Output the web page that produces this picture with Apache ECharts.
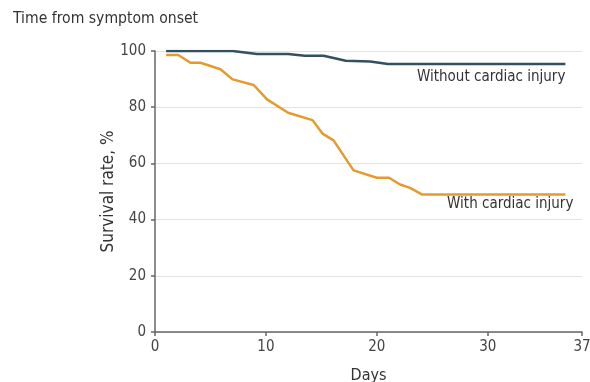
<!DOCTYPE html>
<html><head><meta charset="utf-8">
<script src="https://cdn.jsdelivr.net/npm/echarts@6/dist/echarts.min.js"></script>
<style>html,body{margin:0;padding:0;background:#fff}#c{width:590px;height:382px}</style>
</head><body><div id="c"></div>
<script>
const withoutDays = [1, 7, 9.2, 12, 13.5, 15.2, 17.2, 19.4, 21, 37];
const withoutVals = [100, 100, 98.9, 98.9, 98.3, 98.3, 96.5, 96.3, 95.4, 95.4];
const withDays = [1, 2.1, 3.2, 4.1, 5.9, 7, 8.9, 10.1, 12, 14.2, 15.1, 16.1, 17.9, 20, 21.1, 22.1, 23, 24.1, 37];
const withVals = [98.6, 98.6, 95.8, 95.8, 93.5, 89.9, 87.9, 82.8, 78, 75.4, 70.6, 68.2, 57.5, 54.9, 54.9, 52.5, 51.3, 48.9, 48.9];
const xTickLabels = ['0', '10', '20', '30', '37'];
const seriesNames = ['Without cardiac injury', 'With cardiac injury'];

const FONT = '"DejaVu Sans Condensed", sans-serif';
const X_MAX = 38.5;

function pairs(d, v) { return d.map((x, i) => [x, v[i]]); }
function endMark(d, v, name, offset) {
  const n = d.length - 1;
  return {
    symbol: 'circle', symbolSize: 0, silent: true,
    label: {
      show: true, formatter: name, position: offset, align: 'right', verticalAlign: 'middle',
      fontFamily: FONT, fontSize: 15, color: '#333'
    },
    data: [{ coord: [d[n], v[n]] }]
  };
}

const chart = echarts.init(document.getElementById('c'), null, { renderer: 'canvas' });
chart.setOption({
  animation: false,
  title: {
    text: 'Time from symptom onset', left: 8, top: 6,
    textStyle: { fontFamily: FONT, fontSize: 15.6, fontWeight: 'normal', color: '#333' }
  },
  grid: { left: 155, right: 8, top: 51, bottom: 50, containLabel: false, outerBoundsMode: 'none' },
  xAxis: {
    type: 'value', min: 0, max: X_MAX, interval: 10,
    name: 'Days', nameLocation: 'middle', nameGap: 36, nameMoveOverlap: false,
    nameTextStyle: { fontFamily: FONT, fontSize: 16, color: '#333' },
    axisLine: { show: true, lineStyle: { color: '#666', width: 1.5 } },
    axisTick: { show: true, length: 4, lineStyle: { color: '#666', width: 1.5 } },
    axisLabel: {
      fontFamily: FONT, fontSize: 15, color: '#444', margin: 8, showMaxLabel: true,
      formatter: v => (Math.abs(v - X_MAX) < 1e-6 ? xTickLabels[4] : xTickLabels[Math.round(v / 10)])
    },
    splitLine: { show: false }
  },
  yAxis: {
    type: 'value', min: 0, max: 100, interval: 20,
    name: 'Survival rate, %', nameLocation: 'middle', nameGap: 38, nameMoveOverlap: false,
    nameTextStyle: { fontFamily: FONT, fontSize: 17, color: '#333' },
    axisLine: { show: true, lineStyle: { color: '#666', width: 1.5 } },
    axisTick: { show: true, length: 4, lineStyle: { color: '#666', width: 1.5 } },
    axisLabel: { fontFamily: FONT, fontSize: 15, color: '#444', margin: 9 },
    splitLine: { show: true, lineStyle: { color: '#e2e2e2', width: 1 } }
  },
  series: [
    {
      name: seriesNames[0], type: 'line', showSymbol: false, symbol: 'none',
      lineStyle: { color: '#34505e', width: 2.5 },
      data: pairs(withoutDays, withoutVals),
      markPoint: endMark(withoutDays, withoutVals, seriesNames[0], [0, 13]),
      z: 3
    },
    {
      name: seriesNames[1], type: 'line', showSymbol: false, symbol: 'none',
      lineStyle: { color: '#e59a2e', width: 2.5 },
      data: pairs(withDays, withVals),
      markPoint: endMark(withDays, withVals, seriesNames[1], [8, 10]),
      z: 2
    }
  ]
});
</script></body></html>
